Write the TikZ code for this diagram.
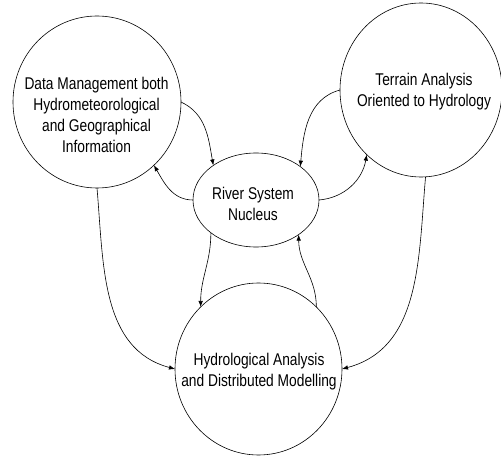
\documentclass[tikz,border=0pt]{standalone}
\usepackage{fontspec}
\setmainfont{Liberation Sans}[FakeStretch=0.81]
\usetikzlibrary{shapes.geometric,arrows.meta}
\begin{document}
\begin{tikzpicture}[x=1pt,y=1pt,
  bubble/.style={draw, ellipse, line width=0.6pt, inner sep=0pt, outer sep=0pt},
  lbl/.style={align=center, inner sep=0pt, font=\fontsize{17}{21}\selectfont},
  conn/.style={line width=0.6pt, -{Latex[length=6pt,width=4.5pt]}}]
\useasboundingbox (0,0) rectangle (501,-457);
\node[bubble, minimum width=168, minimum height=172] (data) at (97,-102) {};
\node[bubble, minimum width=162, minimum height=174] (terr) at (421,-90) {};
\node[bubble, minimum width=126, minimum height=94] (river) at (256,-200) {};
\node[bubble, minimum width=167, minimum height=172] (hydro) at (258.5,-369) {};
\node[lbl] (dataT) at (96.5,-115) {Data Management both\\Hydrometeorological\\and Geographical\\Information};
\node[lbl] (terrT) at (424,-91.5) {Terrain Analysis\\Oriented to Hydrology};
\node[lbl] (riverT) at (253,-204) {River System\\Nucleus};
\node[lbl] (hydroT) at (259,-372) {Hydrological Analysis\\and Distributed Modelling};
\draw[conn] (data.0) to[out=-25, in=100] (river.141);
\draw[conn] (river.180) to[out=180, in=-60] (data.-48);
\draw[conn] (terr.180) to[out=195, in=85] (river.37);
\draw[conn] (river.0) to[out=5, in=-100] (terr.-130);
\draw[conn] (data.-90) to[out=-85, in=165] (hydro.180);
\draw[conn] (terr.-87) to[out=-95, in=15] (hydro.0);
\draw[conn] (river.216) to[out=-90, in=90] (hydro.133);
\draw[conn] (hydro.47) to[out=90, in=-90] (river.-39);
\end{tikzpicture}
\end{document}
